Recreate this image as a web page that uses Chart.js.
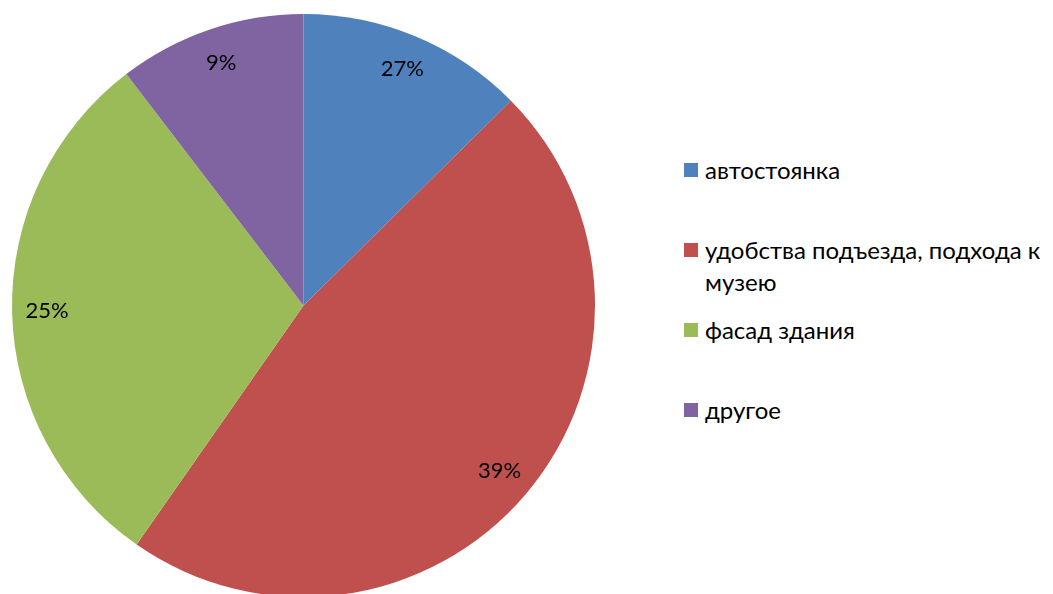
<!DOCTYPE html>
<html>
<head>
<meta charset="utf-8">
<script src="https://cdn.jsdelivr.net/npm/chart.js@4"></script>
<style>
  html, body { margin: 0; padding: 0; background: #fff; overflow: hidden; width: 1053px; height: 594px; }
  #wrap { position: absolute; left: 0; top: 0; width: 607px; height: 611px; }
  #legend { position: absolute; left: 684px; top: 154px; font-family: Lato, sans-serif; font-size: 24px; color: #000; }
  .item { height: 80px; display: flex; align-items: flex-start; }
  .box { width: 14px; height: 14px; margin-top: 9px; margin-right: 7px; flex: none; }
  .txt { line-height: 32px; white-space: nowrap; }
</style>
</head>
<body>
<div id="wrap"><canvas id="pie"></canvas></div>
<div id="legend"></div>
<script>
// Данные диаграммы
const categories = ['автостоянка', ['удобства подъезда, подхода к', 'музею'], 'фасад здания', 'другое'];
const values = [12.6, 47.1, 29.9, 10.4];          // размер секторов, как на картинке
const valueLabels = ['27%', '39%', '25%', '9%'];  // подписи, как на картинке
const colors = ['#4F81BD', '#C0504D', '#9BBB59', '#8064A2'];

// Подписи внутри секторов
const sliceLabels = {
  id: 'sliceLabels',
  afterDatasetsDraw(chart) {
    const ctx = chart.ctx;
    const meta = chart.getDatasetMeta(0);
    ctx.save();
    ctx.font = '22px Lato, sans-serif';
    ctx.fillStyle = '#000';
    ctx.textAlign = 'center';
    ctx.textBaseline = 'middle';
    meta.data.forEach((arc, i) => {
      const p = arc.getProps(['x', 'y', 'startAngle', 'endAngle', 'outerRadius'], true);
      const mid = (p.startAngle + p.endAngle) / 2;
      const r = p.outerRadius * 0.88;
      ctx.fillText(valueLabels[i], p.x + Math.cos(mid) * r, p.y + Math.sin(mid) * r);
    });
    ctx.restore();
  }
};

new Chart(document.getElementById('pie'), {
  type: 'pie',
  data: {
    labels: categories,
    datasets: [{
      data: values,
      backgroundColor: colors,
      borderWidth: 0
    }]
  },
  options: {
    responsive: true,
    maintainAspectRatio: false,
    animation: false,
    layout: { padding: 12 },
    plugins: {
      legend: { display: false },
      tooltip: { enabled: false }
    }
  },
  plugins: [sliceLabels]
});

// Легенда справа
const legend = document.getElementById('legend');
categories.forEach((cat, i) => {
  const item = document.createElement('div');
  item.className = 'item';
  const box = document.createElement('span');
  box.className = 'box';
  box.style.background = colors[i];
  const txt = document.createElement('span');
  txt.className = 'txt';
  txt.innerHTML = (Array.isArray(cat) ? cat : [cat]).join('<br>');
  item.appendChild(box);
  item.appendChild(txt);
  legend.appendChild(item);
});
</script>
</body>
</html>
